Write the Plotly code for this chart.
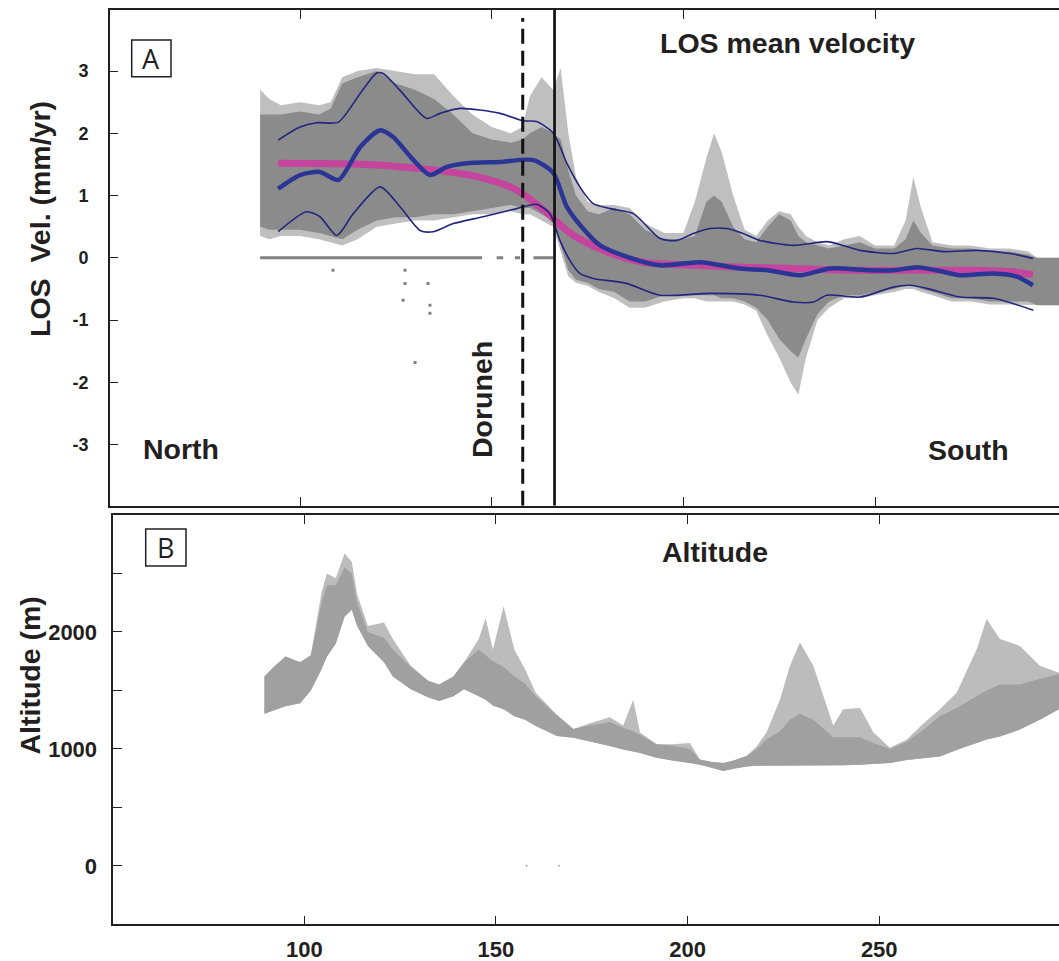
import plotly.graph_objects as go

# ---------------- data ----------------
# Panel A: gray InSAR point cloud (envelopes)
cloud_x = [89.6, 92, 95, 100, 105, 108, 111, 115, 120, 125, 130, 135, 140, 145, 150, 155, 158, 160, 163, 166,
           168, 170, 172, 175, 178, 182, 186, 190, 195, 200, 203, 206, 208, 210, 213, 216, 219, 222, 225, 228,
           230, 232, 235, 238, 242, 246, 250, 255, 258, 260, 262, 265, 270, 275, 280, 285, 290, 292.3, 298]
cloud_sparse_hi = [2.7, 2.55, 2.45, 2.5, 2.45, 2.5, 2.9, 3.0, 3.05, 3.0, 2.95, 2.95, 2.6, 2.3, 2.1, 2.0, 2.1, 2.6, 2.9, 2.7,
                   3.05, 2.0, 1.3, 0.9, 0.85, 0.85, 0.8, 0.55, 0.4, 0.4, 0.9, 1.6, 2.0, 1.7, 1.0, 0.45, 0.35, 0.6, 0.75, 0.7,
                   0.5, 0.35, 0.25, 0.2, 0.3, 0.35, 0.2, 0.2, 0.6, 1.3, 0.8, 0.25, 0.2, 0.2, 0.15, 0.15, 0.1, 0.0, 0.0]
cloud_sparse_lo = [0.35, 0.3, 0.35, 0.35, 0.3, 0.25, 0.2, 0.3, 0.5, 0.55, 0.6, 0.6, 0.65, 0.7, 0.7, 0.75, 0.7, 0.7, 0.6, 0.5,
                   0.1, -0.3, -0.4, -0.45, -0.55, -0.65, -0.8, -0.8, -0.7, -0.65, -0.65, -0.7, -0.7, -0.7, -0.7, -0.75, -0.85, -1.25, -1.6, -2.0,
                   -2.2, -1.6, -1.0, -0.8, -0.65, -0.65, -0.6, -0.55, -0.5, -0.5, -0.55, -0.6, -0.7, -0.7, -0.75, -0.75, -0.75, -0.76, -0.76]
cloud_dense_hi = [2.3, 2.3, 2.3, 2.35, 2.3, 2.4, 2.8, 2.9, 3.0, 2.8, 2.7, 2.55, 2.3, 2.0, 1.9, 1.85, 1.9, 2.0, 2.1, 2.0,
                  1.9, 1.4, 1.0, 0.75, 0.7, 0.8, 0.7, 0.45, 0.3, 0.3, 0.35, 0.9, 1.0, 0.9, 0.5, 0.3, 0.25, 0.5, 0.7, 0.6,
                  0.35, 0.25, 0.2, 0.15, 0.2, 0.25, 0.15, 0.15, 0.3, 0.6, 0.4, 0.2, 0.15, 0.15, 0.1, 0.1, 0.05, 0.0, 0.0]
cloud_dense_lo = [0.5, 0.45, 0.45, 0.45, 0.4, 0.35, 0.3, 0.45, 0.6, 0.65, 0.65, 0.7, 0.7, 0.75, 0.8, 0.85, 0.8, 0.8, 0.7, 0.6,
                  0.2, -0.2, -0.35, -0.4, -0.5, -0.55, -0.7, -0.7, -0.6, -0.6, -0.6, -0.6, -0.6, -0.65, -0.65, -0.7, -0.8, -1.0, -1.3, -1.5,
                  -1.6, -1.3, -0.9, -0.7, -0.6, -0.6, -0.55, -0.5, -0.45, -0.45, -0.5, -0.55, -0.65, -0.65, -0.7, -0.7, -0.7, -0.76, -0.76]

# zero-velocity strip and isolated outliers
zero_x = [89.6, 147.5, None, 151.3, 153.0, None, 156.1, 157.4, None, 160.9, 166.0]
zero_y = [0, 0, None, 0, 0, None, 0, 0, None, 0, 0]
outlier_x = [127.4, 127.4, 133.4, 126.9, 133.9, 133.9, 130.0, 108.6]
outlier_y = [-0.2, -0.41, -0.41, -0.68, -0.76, -0.89, -1.68, -0.2]

# smoothed mean (magenta)
mag_x = [94.3, 117.4, 130.4, 139.1, 147.8, 156.5, 163.5, 169.6, 173, 180, 189.6, 202.6, 215, 228.6, 245, 261, 275, 285, 291.2]
mag_y = [1.52, 1.5, 1.44, 1.38, 1.28, 1.09, 0.77, 0.44, 0.3, 0.1, -0.07, -0.12, -0.15, -0.17, -0.2, -0.2, -0.2, -0.22, -0.27]

# mean LOS velocity (thick blue)
mean_x = [94.3, 100, 105.2, 110, 115.7, 120.9, 124.3, 129.6, 133.9, 138.3, 143.5, 152.2, 160.9, 166.1, 169.6, 174.3,
          178.3, 186.1, 193.9, 204.3, 214.8, 222, 230.4, 238.3, 248.7, 255, 261, 266, 272.2, 280.8, 287, 291.2]
mean_y = [1.11, 1.33, 1.38, 1.25, 1.78, 2.05, 1.94, 1.57, 1.33, 1.46, 1.52, 1.54, 1.57, 1.36, 0.82, 0.44,
          0.2, 0.0, -0.12, -0.07, -0.17, -0.2, -0.28, -0.17, -0.2, -0.2, -0.15, -0.2, -0.28, -0.25, -0.3, -0.44]

# mean + std (thin blue)
upper_x = [94.3, 100, 104.3, 110, 115.7, 120, 121.7, 126.1, 133, 136.5, 141.7, 152.2, 158.2, 161.7, 166.1, 169.6, 173, 176.5,
           180.9, 187, 193.9, 198.3, 202.6, 207, 211.3, 215.6, 220, 228.7, 237.4, 241.7, 246.1, 254.8, 260.9, 267.8, 276.5, 285.2, 291.3]
upper_y = [1.89, 2.1, 2.17, 2.18, 2.64, 2.97, 2.96, 2.69, 2.24, 2.32, 2.4, 2.32, 2.2, 2.19, 2.0, 1.52, 1.14, 0.87,
           0.79, 0.71, 0.31, 0.28, 0.39, 0.47, 0.47, 0.39, 0.28, 0.2, 0.26, 0.2, 0.12, 0.07, 0.15, 0.1, 0.12, 0.07, -0.01]
# mean - std (thin blue)
lower_x = [94.3, 101.7, 105.2, 109.6, 113.9, 120.9, 126.1, 131.3, 134.8, 140, 147.8, 156.5, 161.7, 165.2, 167.8, 170.4,
           173, 176.5, 185.2, 193.9, 207, 220, 228.7, 233.9, 237.4, 246.1, 254.8, 259.1, 263.5, 272.2, 280.9, 291.3]
lower_y = [0.42, 0.74, 0.66, 0.36, 0.71, 1.14, 0.82, 0.44, 0.42, 0.55, 0.66, 0.79, 0.86, 0.71, 0.28, -0.04,
           -0.25, -0.33, -0.41, -0.6, -0.57, -0.6, -0.71, -0.71, -0.6, -0.63, -0.47, -0.44, -0.49, -0.63, -0.65, -0.84]

# fault positions (km along profile)
doruneh_x = 158.1
fault_x = 166.4

# Panel B: altitude point cloud (envelopes)
alt_x = [89.6, 92, 95.1, 98.9, 101.7, 104.5, 105.9, 108.2, 110.5, 112.4,
         113.8, 116.6, 120.8, 123.1, 127.8, 132.4, 135.2, 138.9, 141.7, 145.5,
         147.3, 149.2, 152, 154.8, 157.6, 160.4, 165.9, 170.2, 174.5, 179.7,
         183.2, 185.8, 187.6, 191.9, 196, 200.6, 203.2, 206, 209.3, 212,
         215.4, 218, 220.6, 224.1, 226.7, 229.3, 232.8, 236.3, 238, 240.6,
         245, 248.5, 252.8, 257.2, 261, 265.8, 270.2, 275.4, 278, 281.5,
         286.7, 291.9, 296.9]
alt_hi = [1620, 1700, 1790, 1740, 1800, 2340, 2500, 2460, 2670, 2600,
          2320, 2050, 2080, 1940, 1710, 1580, 1550, 1620, 1740, 1940,
          2120, 1850, 2220, 1850, 1680, 1480, 1290, 1170, 1220, 1270,
          1200, 1420, 1140, 1040, 1040, 1050, 910, 890, 880, 900,
          940, 1020, 1140, 1420, 1710, 1910, 1710, 1370, 1200, 1340,
          1350, 1140, 1010, 1080, 1200, 1340, 1480, 1850, 2110, 1940,
          1880, 1710, 1650]
alt_dense_hi = [1620, 1700, 1790, 1740, 1800, 2250, 2400, 2400, 2550, 2500,
                2250, 2000, 1950, 1850, 1700, 1580, 1550, 1620, 1740, 1850,
                1800, 1750, 1700, 1620, 1560, 1450, 1290, 1170, 1200, 1230,
                1180, 1150, 1120, 1040, 1030, 1000, 910, 890, 880, 900,
                940, 1000, 1080, 1150, 1250, 1300, 1250, 1150, 1100, 1100,
                1100, 1050, 1000, 1060, 1150, 1280, 1350, 1450, 1500, 1550,
                1550, 1600, 1640]
alt_lo = [1300, 1330, 1365, 1390, 1500, 1680, 1790, 1900, 2130, 2190,
          2050, 1880, 1740, 1620, 1510, 1440, 1410, 1450, 1510, 1450,
          1420, 1370, 1340, 1280, 1250, 1195, 1110, 1095, 1065, 1025,
          995, 980, 965, 925, 900, 880, 865, 840, 810, 830,
          850, 855, 855, 855, 855, 855, 855, 855, 855, 860,
          865, 870, 880, 905, 920, 935, 990, 1050, 1080, 1105,
          1165, 1250, 1340]
alt_dot_x = [158.0, 166.5]
alt_dot_y = [0, 0]

# axis ticks
x_ticks = [100, 150, 200, 250]
x_ticktext = ["100", "150", "200", "250"]
vel_ticks = [-3, -2, -1, 0, 1, 2, 3]
vel_ticktext = ["-3", "-2", "-1", "0", "1", "2", "3"]
alt_ticks = [-500, 0, 500, 1000, 1500, 2000, 2500, 3000]
alt_ticktext = ["", "0", "", "1000", "", "2000", "", ""]

# ---------------- figure ----------------
W, H = 1059, 961
INK = "#231f20"
FONT = "Liberation Sans, Arial, sans-serif"


def pxx(v):
    return v / W


def pxy(v):
    return 1 - v / H


fig = go.Figure()


def band(x, lo, hi, color, xa, ya):
    fig.add_trace(go.Scatter(x=x, y=lo, mode="lines", line=dict(width=0), xaxis=xa, yaxis=ya,
                             showlegend=False, hoverinfo="skip"))
    fig.add_trace(go.Scatter(x=x, y=hi, mode="lines", line=dict(width=0), fill="tonexty",
                             fillcolor=color, xaxis=xa, yaxis=ya, showlegend=False, hoverinfo="skip"))


# Panel A cloud
band(cloud_x, cloud_sparse_lo, cloud_sparse_hi, "rgba(128,128,128,0.5)", "x", "y")
band(cloud_x, cloud_dense_lo, cloud_dense_hi, "#8b8b8b", "x", "y")
fig.add_trace(go.Scatter(x=zero_x, y=zero_y, mode="lines", line=dict(color="#808080", width=3),
                         xaxis="x", yaxis="y", showlegend=False))
fig.add_trace(go.Scatter(x=outlier_x, y=outlier_y, mode="markers",
                         marker=dict(color="#808080", size=3, symbol="square"),
                         xaxis="x", yaxis="y", showlegend=False))

# Panel A lines
fig.add_trace(go.Scatter(x=mag_x, y=mag_y, mode="lines",
                         line=dict(color="#c4449e", width=7, shape="spline", smoothing=0.8),
                         xaxis="x", yaxis="y", showlegend=False))
fig.add_trace(go.Scatter(x=mean_x, y=mean_y, mode="lines",
                         line=dict(color="#2b3596", width=4.5, shape="spline", smoothing=0.7),
                         xaxis="x", yaxis="y", showlegend=False))
for lx, ly in ((upper_x, upper_y), (lower_x, lower_y)):
    fig.add_trace(go.Scatter(x=lx, y=ly, mode="lines",
                             line=dict(color="#24257f", width=1.6, shape="spline", smoothing=0.7),
                             xaxis="x", yaxis="y", showlegend=False))

# Panel B altitude cloud
band(alt_x, alt_lo, alt_hi, "rgba(160,160,160,0.7)", "x2", "y2")
band(alt_x, alt_lo, alt_dense_hi, "#a0a0a0", "x2", "y2")
fig.add_trace(go.Scatter(x=alt_dot_x, y=alt_dot_y, mode="markers",
                         marker=dict(color="#aaaaaa", size=2), xaxis="x2", yaxis="y2", showlegend=False))

# fault lines
fig.add_shape(type="line", xref="x", yref="y", x0=doruneh_x, x1=doruneh_x, y0=-3.98, y1=3.85,
              line=dict(color="#111111", width=3, dash="15px,7px"))
fig.add_shape(type="line", xref="x", yref="y", x0=fault_x, x1=fault_x, y0=-3.98, y1=3.98,
              line=dict(color="#111111", width=2.7))

# panel label boxes
fig.add_shape(type="rect", xref="paper", yref="paper", x0=pxx(131.7), x1=pxx(171), y0=pxy(76.7), y1=pxy(40),
              line=dict(color=INK, width=1.5))
fig.add_shape(type="rect", xref="paper", yref="paper", x0=pxx(145.7), x1=pxx(186), y0=pxy(566), y1=pxy(529),
              line=dict(color=INK, width=1.5))

bold = dict(family=FONT, size=28.5, color=INK, weight="bold")
ann = [
    dict(text="A", x=pxx(151.3), y=pxy(58.5), font=dict(family="Open Sans, sans-serif", size=27, color=INK)),
    dict(text="B", x=pxx(165.8), y=pxy(547.5), font=dict(family="Open Sans, sans-serif", size=27, color=INK)),
    dict(text="LOS mean velocity", x=pxx(787.5), y=pxy(43), font=bold),
    dict(text="Altitude", x=pxx(715), y=pxy(551.7), font=bold),
    dict(text="North", x=pxx(180.5), y=pxy(449), font=bold),
    dict(text="South", x=pxx(968), y=pxy(450), font=bold),
    dict(text="Doruneh", x=pxx(482), y=pxy(400), font=bold, textangle=-90),
    dict(text="LOS\u00a0\u00a0Vel. (mm/yr)", x=pxx(40), y=pxy(219), font=bold, textangle=-90),
    dict(text="Altitude (m)", x=pxx(29.5), y=pxy(676), font=bold, textangle=-90),
]
for a in ann:
    fig.add_annotation(xref="paper", yref="paper", showarrow=False, xanchor="center", yanchor="middle", **a)

tick_common = dict(ticks="inside", tickcolor=INK, tickwidth=1.4, showgrid=False, zeroline=False)
x_common = dict(showline=True, linecolor=INK, linewidth=1.6, mirror="ticks", **tick_common)
y_common = dict(showline=True, linecolor=INK, linewidth=1.6, mirror=False, **tick_common)
right_common = dict(side="right", showline=False, showticklabels=False, **tick_common)

fig.update_layout(
    width=W, height=H,
    margin=dict(l=0, r=0, t=0, b=0),
    paper_bgcolor="white", plot_bgcolor="white",
    showlegend=False,
    xaxis=dict(domain=[pxx(110), 1], range=[50.43, 298.0], anchor="y",
               tickvals=x_ticks, showticklabels=False, ticklen=9, **x_common),
    yaxis=dict(domain=[pxy(505.7), pxy(10)], range=[-3.98, 3.98], anchor="x",
               tickvals=vel_ticks, ticktext=vel_ticktext, ticklen=8, ticklabelstandoff=16,
               tickfont=dict(family=FONT, size=18, color=INK, weight="bold"), **y_common),
    yaxis3=dict(overlaying="y", anchor="x", range=[-3.98, 3.98], tickvals=vel_ticks, ticklen=8,
                **right_common),
    xaxis2=dict(domain=[pxx(113.3), 1], range=[50.17, 296.9], anchor="y2",
                tickvals=x_ticks, ticktext=x_ticktext, ticklen=9, ticklabelstandoff=4,
                tickfont=dict(family=FONT, size=22, color=INK, weight="bold"), **x_common),
    yaxis2=dict(domain=[pxy(924.3), pxy(515)], range=[-500, 3000], anchor="x2",
                tickvals=alt_ticks, ticktext=alt_ticktext, ticklen=9, ticklabelstandoff=10,
                tickfont=dict(family=FONT, size=22, color=INK, weight="bold"), **y_common),
    yaxis4=dict(overlaying="y2", anchor="x2", range=[-500, 3000], tickvals=alt_ticks, ticklen=9,
                **right_common),
)

fig.write_html("out.html", config={"displayModeBar": False},
               post_script="document.body.style.margin='0px';")
